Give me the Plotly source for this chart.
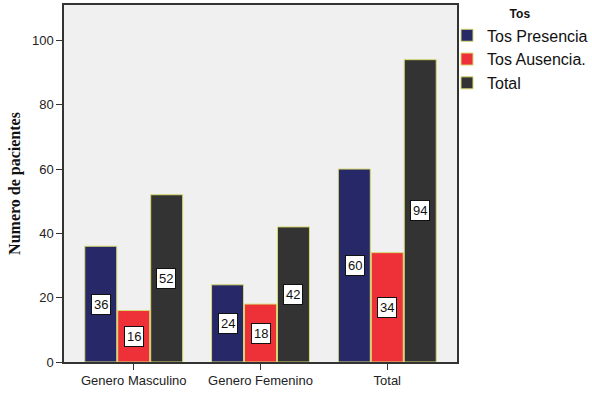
import plotly.graph_objects as go

# Patient counts by gender and cough status
categories = ["Genero Masculino", "Genero Femenino", "Total"]
series_names = ["Tos Presencia", "Tos Ausencia.", "Total"]
tos_presencia = [36, 24, 60]
tos_ausencia = [16, 18, 34]
total = [52, 42, 94]
y_ticks = [0, 20, 40, 60, 80, 100]

series_values = [tos_presencia, tos_ausencia, total]
colors = ["#262868", "#ee3038", "#333333"]
outline = "#d8d870"

fig = go.Figure()
for name, vals, col in zip(series_names, series_values, colors):
    fig.add_trace(go.Bar(
        x=categories, y=vals, name=name,
        marker=dict(color=col, line=dict(color=outline, width=1)),
    ))

# Value boxes centred inside each bar
bar_px = 32.5
for i, vals in enumerate(series_values):
    for cat, v in zip(categories, vals):
        fig.add_annotation(
            x=cat, y=v / 2, text=str(v), showarrow=False,
            xshift=(i - 1) * bar_px,
            font=dict(family="Arial, Liberation Sans", size=13, color="#111"),
            bgcolor="white", bordercolor="#111", borderwidth=1, borderpad=2,
        )

fig.update_layout(
    width=592, height=394,
    margin=dict(l=64, r=135, t=5, b=32, autoexpand=False),
    paper_bgcolor="white", plot_bgcolor="#f0f0f0",
    barmode="group", bargap=0.22, bargroupgap=0.03,
    font=dict(family="Arial, Liberation Sans", size=13, color="#222"),
    legend=dict(
        title=dict(text="<b>Tos</b>", side="top center",
                   font=dict(family="Arial, Liberation Sans", size=12, color="#111")),
        xref="container", yref="container",
        x=447 / 592, y=0.993, xanchor="left", yanchor="top",
        font=dict(family="Arial, Liberation Sans", size=16, color="#111"),
        bgcolor="rgba(0,0,0,0)", tracegroupgap=0, itemwidth=30,
    ),
    showlegend=True,
)

fig.update_xaxes(
    range=[-0.55, 2.55], showline=True, linecolor="#333", linewidth=1.5,
    mirror=True, ticks="outside", ticklen=6, tickcolor="#333",
    tickfont=dict(size=13, color="#222"), showgrid=False,
)
fig.update_yaxes(
    range=[0, 111], tickvals=y_ticks, showline=True, linecolor="#333",
    linewidth=1.5, mirror=True, ticks="outside", ticklen=6, tickcolor="#333",
    tickfont=dict(size=13, color="#222"), showgrid=False, zeroline=False,
    title=dict(text="<b>Numero de pacientes</b>", standoff=7,
               font=dict(family="Times New Roman, Liberation Serif", size=16, color="#111")),
)

fig.write_html("out.html")
